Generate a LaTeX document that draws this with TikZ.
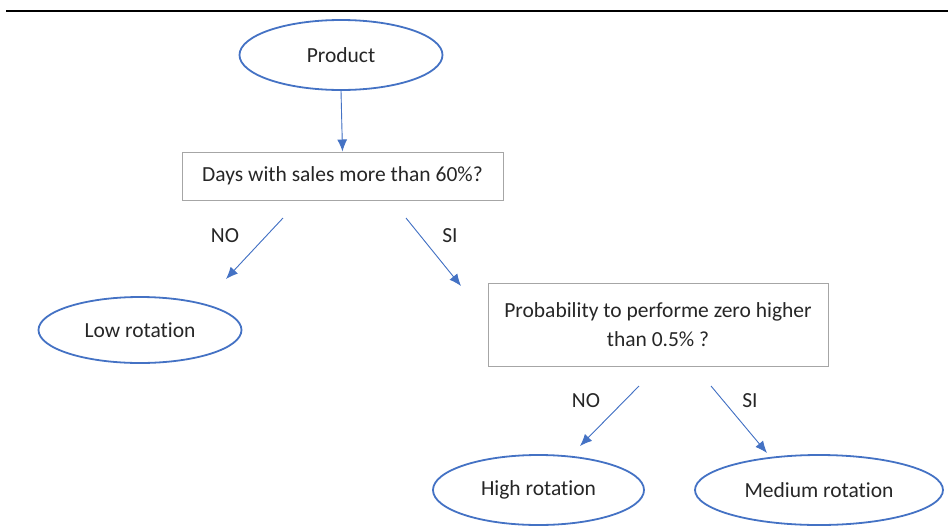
\documentclass[tikz,border=0pt]{standalone}
\usepackage{fontspec}
\setmainfont{Carlito}[Ligatures=NoCommon]
\usetikzlibrary{shapes.geometric,arrows.meta}
\definecolor{ovalblue}{HTML}{4472C4}
\definecolor{boxgray}{HTML}{A6A6A6}
\tikzset{
  oval/.style={ellipse,draw=ovalblue,line width=1.8pt,inner sep=0pt,text=black!85},
  question/.style={rectangle,draw=boxgray,line width=1pt,inner sep=0pt,text=black!85},
  branch/.style={-{Latex[length=12pt,width=10pt]},draw=ovalblue,fill=ovalblue,line width=0.9pt},
  lbl/.style={text=black!85},
}

\begin{document}
\begin{tikzpicture}[x=1pt,y=-1pt,font=\fontsize{21.5}{29}\selectfont]
                \useasboundingbox (0,0) rectangle (948,528);
                \draw[line width=2pt](6,11)--(948,11);

                % tree nodes
                \node[oval,minimum width=203pt,minimum height=70pt] (prod) at(341,55) {Product};
                \node[question,minimum width=321pt,minimum height=48pt] (days) at(342.5,176) {Days with sales more than 60\%?\hspace{8pt}};
                \node[oval,minimum width=203pt,minimum height=66pt] (low) at(140,330) {Low rotation};
                \node[question,minimum width=340pt,minimum height=83pt,align=center] (prob) at(658,324.5) {Probability to performe zero higher\\than 0.5\% ?};
                \node[oval,minimum width=211pt,minimum height=70pt] (high) at(538.5,490) {High rotation};
                \node[oval,minimum width=248pt,minimum height=70pt] (med) at(819,490) {Medium rotation};

                % free ends of the branches
                \coordinate (noA) at(283,218);
                \coordinate (noB) at(226,279);
                \coordinate (siA) at(406,218);
                \coordinate (siB) at(461,286);
                \coordinate (noC) at(639,386);
                \coordinate (noD) at(580,446);
                \coordinate (siC) at(711,386);
                \coordinate (siD) at(767,453);

                \draw[branch](prod.south)--(days.north);
                \draw[branch](noA)--(noB);
                \draw[branch](siA)--(siB);
                \draw[branch](noC)--(noD);
                \draw[branch](siC)--(siD);

                \node[lbl] (no1) at(225,236) {NO};
                \node[lbl] (si1) at(450,236) {SI};
                \node[lbl] (no2) at(586,401) {NO};
                \node[lbl] (si2) at(750,401) {SI};
            \end{tikzpicture}
\end{document}
